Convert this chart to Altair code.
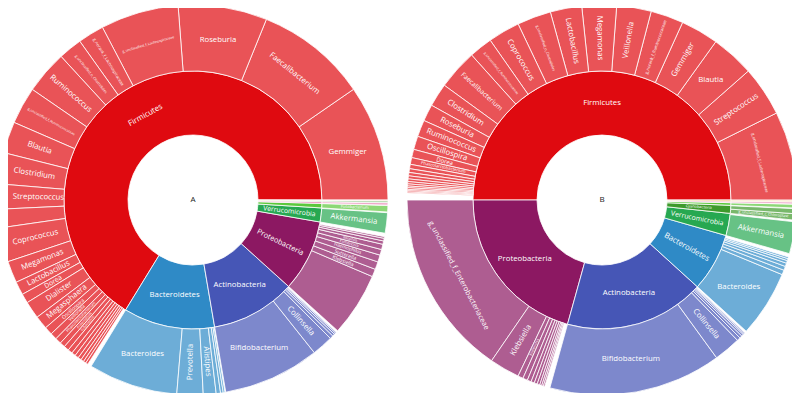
import math
import altair as alt
import pandas as pd

# ---------------- data (relative abundance, %) ----------------
A_phylum = ["Firmicutes", "Bacteroidetes", "Actinobacteria", "Proteobacteria",
            "Verrucomicrobia", "Fusobacteria", "Tenericutes", "Cyanobacteria", "Synergistetes"]
A_phylum_value = [66.25, 11.44, 10.61, 8.97, 1.75, 0.56, 0.22, 0.14, 0.06]

A_genus = [
    "Gemmiger", "Faecalibacterium", "Roseburia", "g_unclassified_f_Lachnospiraceae",
    "g_norank_f_Lachnospiraceae", "g_unclassified_o_Clostridiales", "Ruminococcus",
    "g_unclassified_f_Ruminococcaceae", "Blautia", "Clostridium", "Streptococcus",
    "g_unclassified_f_Peptostreptococcaceae", "Coprococcus", "Megamonas", "Lactobacillus",
    "Dorea", "Dialister", "Megasphaera", "Oscillospira", "Veillonella",
    "Phascolarctobacterium", "Anaerostipes", "Eubacterium", "Enterococcus", "Holdemania",
    "Lachnospira", "Butyricicoccus", "Subdoligranulum", "Turicibacter", "Anaerotruncus",
    "Bacteroides", "Prevotella", "Alistipes", "Parabacteroides", "Barnesiella", "Odoribacter",
    "Bifidobacterium", "Collinsella", "Eggerthella", "Adlercreutzia", "Slackia", "Olsenella",
    "g_unclassified_f_Enterobacteriaceae", "Klebsiella", "Sutterella", "Haemophilus",
    "Escherichia", "Bilophila", "Enterobacter", "Citrobacter", "Desulfovibrio",
    "Akkermansia", "Fusobacterium", "g_norank_o_Mollicutes", "g_norank_c_Chloroplast",
    "Cloacibacillus",
]
A_genus_phylum = (["Firmicutes"] * 30 + ["Bacteroidetes"] * 6 + ["Actinobacteria"] * 6
                  + ["Proteobacteria"] * 9 + ["Verrucomicrobia", "Fusobacteria", "Tenericutes",
                                              "Cyanobacteria", "Synergistetes"])
A_genus_value = [
    9.61, 9.25, 7.36, 6.47, 2.17, 1.97, 3.58, 3.08, 2.61, 2.58, 2.08, 1.53, 2.83, 1.81, 1.11,
    0.78, 1.44, 1.11, 0.67, 0.56, 0.50, 0.44, 0.42, 0.39, 0.33, 0.31, 0.28, 0.25, 0.22, 0.19,
    7.42, 2.17, 1.06, 0.36, 0.22, 0.14,
    8.00, 1.75, 0.28, 0.19, 0.14, 0.08,
    5.28, 0.64, 0.64, 0.58, 0.47, 0.44, 0.28, 0.22, 0.14,
    1.69, 0.53, 0.20, 0.12, 0.05,
]

B_phylum = ["Firmicutes", "Proteobacteria", "Actinobacteria", "Bacteroidetes",
            "Verrucomicrobia", "Cyanobacteria", "Fusobacteria", "Tenericutes", "Synergistetes"]
B_phylum_value = [50.0, 20.69, 17.56, 7.31, 2.78, 1.0, 0.33, 0.19, 0.14]

B_genus = [
    "g_unclassified_f_Lachnospiraceae", "Streptococcus", "Blautia", "Gemmiger",
    "g_norank_f_Ruminococcaceae", "Veillonella", "Megamonas", "Lactobacillus",
    "g_unclassified_o_Clostridiales", "Coprococcus", "g_unclassified_f_Ruminococcaceae",
    "Faecalibacterium", "Clostridium", "Roseburia", "Ruminococcus", "Oscillospira", "Dorea",
    "Phascolarctobacterium", "Dialister", "Anaerostipes", "Enterococcus", "Eubacterium",
    "Megasphaera", "Holdemania", "Lachnospira", "Butyricicoccus", "Subdoligranulum",
    "Turicibacter", "Anaerotruncus", "Weissella",
    "g_unclassified_f_Enterobacteriaceae", "Klebsiella", "Escherichia", "Haemophilus",
    "Enterobacter", "Sutterella", "Citrobacter", "Bilophila", "Desulfovibrio", "Pseudomonas",
    "Acinetobacter",
    "Bifidobacterium", "Collinsella", "Eggerthella", "Adlercreutzia", "Slackia", "Olsenella",
    "Actinomyces",
    "Bacteroides", "Prevotella", "Parabacteroides", "Alistipes", "Barnesiella", "Odoribacter",
    "Butyricimonas",
    "Akkermansia", "g_unclassified_c_Chloroplast", "g_unclassified_o_Streptophyta",
    "Fusobacterium", "g_norank_c_Mollicutes", "Cloacibacillus",
]
B_genus_phylum = (["Firmicutes"] * 30 + ["Proteobacteria"] * 11 + ["Actinobacteria"] * 7
                  + ["Bacteroidetes"] * 7 + ["Verrucomicrobia", "Cyanobacteria", "Cyanobacteria",
                                             "Fusobacteria", "Tenericutes", "Synergistetes"])
B_genus_value = [
    7.36, 4.14, 3.58, 3.14, 2.72, 2.86, 2.86, 2.61, 2.81, 2.64, 1.94, 3.33, 1.94, 1.39, 1.39,
    1.11, 0.69, 0.56, 0.36, 0.31, 0.28, 0.25, 0.22, 0.19, 0.17, 0.14, 0.14, 0.11, 0.11, 0.08,
    15.42, 2.50, 0.44, 0.39, 0.33, 0.28, 0.25, 0.22, 0.17, 0.14, 0.11,
    14.31, 2.22, 0.28, 0.22, 0.17, 0.11, 0.08,
    5.50, 0.39, 0.33, 0.28, 0.22, 0.17, 0.14,
    2.64, 0.53, 0.42, 0.31, 0.17, 0.11,
]

# ---------------- style ----------------
PHYLUM_COLORS = {
    "Firmicutes": "#DF0A10", "Bacteroidetes": "#2F8AC6", "Actinobacteria": "#4656B6",
    "Proteobacteria": "#8C1862", "Verrucomicrobia": "#27A851", "Fusobacteria": "#5CC83C",
    "Cyanobacteria": "#3E9A2C", "Tenericutes": "#E884B4", "Synergistetes": "#F2A23C",
}
ORIENT = {
    ("A", 0, "Firmicutes"): "t", ("A", 0, "Bacteroidetes"): "h", ("A", 0, "Actinobacteria"): "h",
    ("A", 1, "Gemmiger"): "h", ("A", 1, "Faecalibacterium"): "t", ("A", 1, "Roseburia"): "h",
    ("A", 1, "g_unclassified_f_Lachnospiraceae"): "t", ("A", 1, "Bacteroides"): "h",
    ("A", 1, "Bifidobacterium"): "h",
    ("B", 0, "Firmicutes"): "h", ("B", 0, "Proteobacteria"): "h", ("B", 0, "Actinobacteria"): "h",
    ("B", 1, "g_unclassified_f_Lachnospiraceae"): "t", ("B", 1, "Blautia"): "h",
    ("B", 1, "g_unclassified_f_Enterobacteriaceae"): "t", ("B", 1, "Bifidobacterium"): "h",
    ("B", 1, "Bacteroides"): "h",
}
RINGS = {0: (65, 129), 1: (129, 195)}
CENTERS = {"A": (185, 192), "B": (594, 192)}
BASE_FS = 7.8
CHAR_W = 0.56
EDGE = 2


def norm_rot(r):
    while r > 90:
        r -= 180
    while r <= -90:
        r += 180
    return r


def build(panel, phyla, pvals, genera, gpar, gvals):
    cx, cy = CENTERS[panel]
    total = sum(pvals)
    rows, cum, offs = [], 0.0, {}
    for p, v in zip(phyla, pvals):
        rows.append(dict(panel=panel, ring=0, label=p, phylum=p, t0=cum, t1=cum + v))
        offs[p] = cum
        cum += v
    for g, p, v in zip(genera, gpar, gvals):
        s = offs[p]
        rows.append(dict(panel=panel, ring=1, label=g, phylum=p, t0=s, t1=s + v))
        offs[p] = s + v
    for r in rows:
        r["t0"] = r["t0"] / total * 100
        r["t1"] = r["t1"] / total * 100
        r["color"] = PHYLUM_COLORS[r["phylum"]]
        r0, r1 = RINGS[r["ring"]]
        thick = r1 - r0
        rmid = (r0 + r1) / 2
        r["tm"] = (r["t0"] + r["t1"]) / 2
        m = r["tm"] * 3.6
        span = (r["t1"] - r["t0"]) * 3.6
        half = math.radians(min(span, 180) / 2)
        n = len(r["label"])
        o = ORIENT.get((panel, r["ring"], r["label"]), "r")
        if o == "h":
            fs, rot = BASE_FS, 0
        elif o == "t":
            chord = 2 * rmid * math.sin(half)
            fs = min(BASE_FS, thick * 0.6, 0.95 * chord / (CHAR_W * n))
            rot = norm_rot(90 - m)
        else:
            fs = min(BASE_FS, (thick - 6) / (CHAR_W * n))
            L = CHAR_W * n * fs
            h = 2 * (rmid - L / 2) * math.sin(half)
            fs = min(fs, h / 1.1)
            rot = norm_rot(-m)
        # keep the label inside the drawing area (pull it inward along its radius)
        L = CHAR_W * n * fs
        a = math.radians(rot)
        hx = abs(L / 2 * math.cos(a)) + abs(fs / 2 * math.sin(a))
        hy = abs(L / 2 * math.sin(a)) + abs(fs / 2 * math.cos(a))
        cm, sm = math.cos(math.radians(m)), math.sin(math.radians(m))
        rm = rmid
        if cm < -1e-6 and cx + rm * cm - hx < EDGE:
            rm = min(rm, (cx - EDGE - hx) / -cm)
        if sm > 1e-6 and cy - rm * sm - hy < EDGE:
            rm = min(rm, (cy - EDGE - hy) / sm)
        r["rm"] = rm
        r["fs"] = fs
        r["rot"] = rot % 360
    return pd.DataFrame(rows)


df = pd.concat([
    build("A", A_phylum, A_phylum_value, A_genus, A_genus_phylum, A_genus_value),
    build("B", B_phylum, B_phylum_value, B_genus, B_genus_phylum, B_genus_value),
], ignore_index=True)

TS = alt.Scale(domain=[0, 100], range=[2.5 * math.pi, 0.5 * math.pi])

layers = []
for panel, (cx, cy) in CENTERS.items():
    d = df[df.panel == panel]
    for ring, (r0, r1) in RINGS.items():
        dr = d[d.ring == ring]
        layers.append(
            alt.Chart(dr).mark_arc(innerRadius=r0, outerRadius=r1, stroke="white",
                                   strokeWidth=0.8, fillOpacity=1.0 if ring == 0 else 0.7)
            .encode(x=alt.value(cx), y=alt.value(cy),
                    theta=alt.Theta("t0:Q", scale=TS, stack=None), theta2="t1:Q",
                    color=alt.Color("color:N", scale=None))
        )
    dl = d[d.fs >= 3.2]
    layers.append(
        alt.Chart(dl).mark_text(font="Open Sans", color="white", align="center",
                                baseline="middle")
        .encode(x=alt.value(cx), y=alt.value(cy),
                theta=alt.Theta("tm:Q", scale=TS, stack=None),
                radius=alt.Radius("rm:Q", scale=None),
                angle=alt.Angle("rot:Q", scale=None),
                size=alt.Size("fs:Q", scale=None),
                text="label:N")
    )
    layers.append(
        alt.Chart(pd.DataFrame({"name": [panel]})).mark_text(
            font="Open Sans", color="#222222", fontSize=8, align="center", baseline="middle")
        .encode(x=alt.value(cx), y=alt.value(cy), text="name:N")
    )

chart = alt.layer(*layers).properties(
    width=784, height=385, padding=0,
    autosize=alt.AutoSizeParams(type="none"),
).configure_view(stroke=None)

chart.save("out.html", embed_options={"renderer": "svg", "actions": False})
